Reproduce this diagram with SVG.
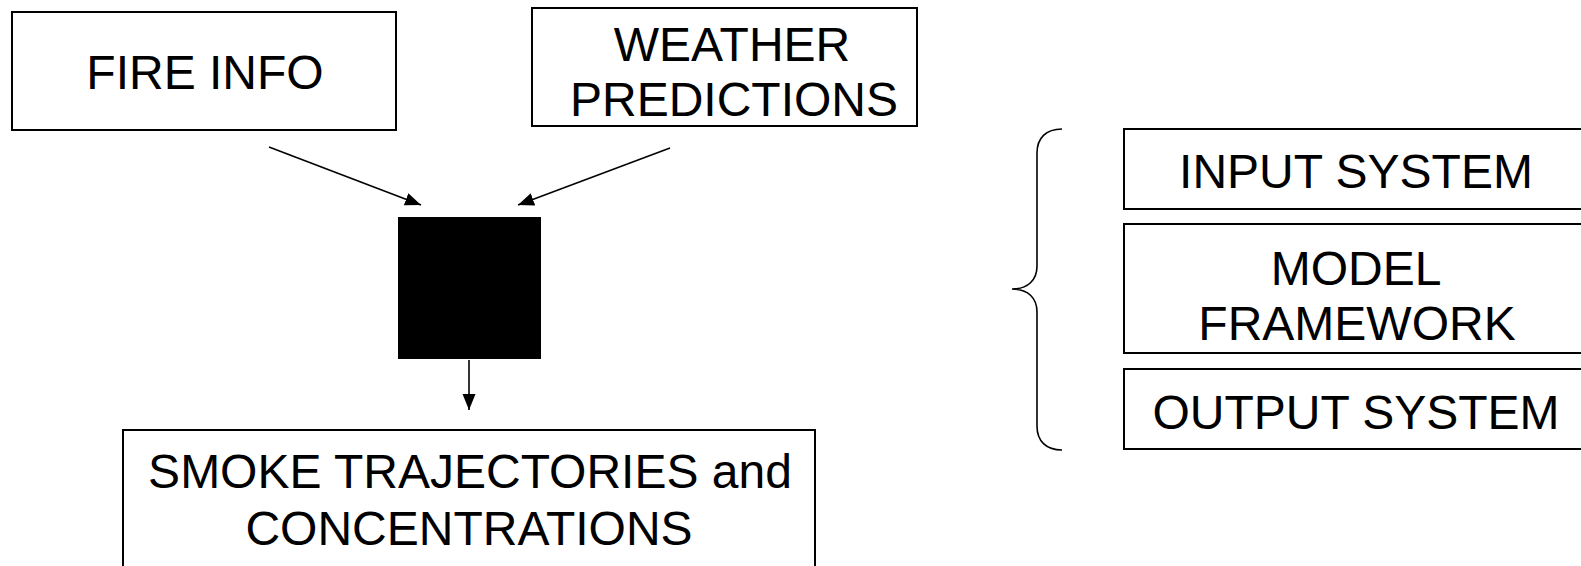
<svg xmlns="http://www.w3.org/2000/svg" width="1581" height="566" viewBox="0 0 1581 566">
  <style>
    .box { fill: #ffffff; stroke: #000000; stroke-width: 2; }
    .solid { fill: #000000; stroke: none; }
    .lbl { font-family: "Liberation Sans", Arial, sans-serif; font-size: 48px; fill: #000000; text-anchor: middle; }
    .edge { fill: none; stroke: #000000; stroke-width: 1.6; }
    .brace { fill: none; stroke: #000000; stroke-width: 1.6; }
  </style>
  <defs>
    <marker id="arrow" markerUnits="userSpaceOnUse" markerWidth="18" markerHeight="14" refX="16" refY="6.5" orient="auto">
      <path d="M0,0 L16,6.5 L0,13 z" fill="#000000"/>
    </marker>
  </defs>

  <rect width="1581" height="566" fill="#ffffff"/>

  <!-- left: data flow -->
  <g id="fire-info">
    <rect class="box" x="12" y="12" width="384" height="118"/>
    <text class="lbl" x="205" y="89">FIRE INFO</text>
  </g>

  <g id="weather-predictions">
    <rect class="box" x="532" y="8" width="385" height="118"/>
    <text class="lbl" x="732" y="61">WEATHER</text>
    <text class="lbl" x="734" y="116">PREDICTIONS</text>
  </g>

  <g id="black-box">
    <rect class="solid" x="398" y="217" width="143" height="142"/>
  </g>

  <g id="smoke-output">
    <rect class="box" x="123" y="430" width="692" height="150"/>
    <text class="lbl" x="470" y="488">SMOKE TRAJECTORIES and</text>
    <text class="lbl" x="469" y="545">CONCENTRATIONS</text>
  </g>

  <g id="connectors">
    <line class="edge" x1="269" y1="147" x2="421" y2="205" marker-end="url(#arrow)"/>
    <line class="edge" x1="670" y1="148" x2="518" y2="205" marker-end="url(#arrow)"/>
    <line class="edge" x1="469" y1="360" x2="469" y2="410" marker-end="url(#arrow)"/>
  </g>

  <!-- right: system layers -->
  <g id="brace">
    <path class="brace" d="M1062,129 C1046,129 1037,138 1037,153 L1037,266 C1037,280 1028,289 1012,289 C1028,289 1037,298 1037,312 L1037,426 C1037,441 1046,450 1062,450"/>
  </g>

  <g id="input-system">
    <rect class="box" x="1124" y="129" width="470" height="80"/>
    <text class="lbl" x="1356" y="188">INPUT SYSTEM</text>
  </g>

  <g id="model-framework">
    <rect class="box" x="1124" y="224" width="470" height="129"/>
    <text class="lbl" x="1356" y="285">MODEL</text>
    <text class="lbl" x="1357" y="340">FRAMEWORK</text>
  </g>

  <g id="output-system">
    <rect class="box" x="1124" y="369" width="470" height="80"/>
    <text class="lbl" x="1356" y="429">OUTPUT SYSTEM</text>
  </g>
</svg>
